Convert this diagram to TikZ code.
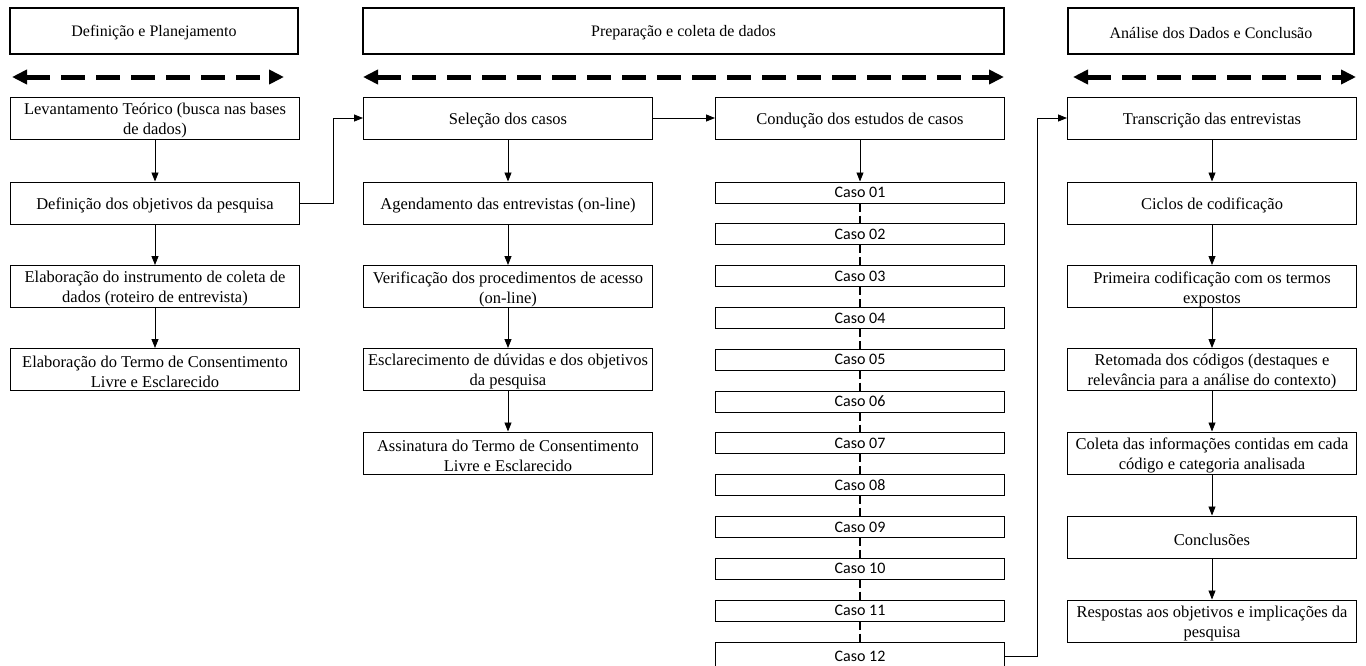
\documentclass[tikz,border=0pt]{standalone}
\usepackage{fontspec}
\setmainfont{Liberation Serif}
\newfontfamily\casefont{Carlito}
\usetikzlibrary{arrows.meta}
\newcommand\mybox[3]{%
  \node[box] (#1) at #2 {};
  \node[txt] (#1t) at ([yshift=-2.5pt]#1.center) {#3};}
\begin{document}
\begin{tikzpicture}[x=1pt,y=-1pt,
  hdr/.style={draw, line width=2.5pt, minimum height=46pt, inner sep=0pt},
  hdrtxt/.style={inner sep=0pt, font=\fontsize{16}{20}\selectfont},
  box/.style={draw, line width=1pt, minimum height=42pt, minimum width=289pt, inner sep=0pt, fill=white},
  txt/.style={inner sep=0pt, align=center, font=\fontsize{16.5}{20}\selectfont},
  casebox/.style={draw, line width=1pt, minimum height=21pt, minimum width=289pt, inner sep=0pt, fill=white, font=\casefont\fontsize{16}{19}\selectfont},
  conn/.style={line width=0.8pt, -{Triangle[length=9pt,width=7pt]}},
  bigarrow/.style={line width=5pt, dash pattern=on 24pt off 11pt, {Triangle[length=15pt,width=14pt]}-{Triangle[length=15pt,width=14pt]}},
  casedash/.style={line width=2.5pt, dash pattern=on 8pt off 4pt}
]
\useasboundingbox (0,0) rectangle (1366,665);
\fill[white] (0,0) rectangle (1366,665);

% headers
\node[hdr, minimum width=288pt] (h1) at (154,31) {};
\node[hdr, minimum width=641pt] (h2) at (683.5,31) {};
\node[hdr, minimum width=286pt] (h3) at (1211,31) {};
\node[hdrtxt] (h1t) at ([yshift=-2pt]h1.center) {Definição e Planejamento};
\node[hdrtxt] (h2t) at ([yshift=-2pt]h2.center) {Preparação e coleta de dados};
\node[hdrtxt] (h3t) at ([yshift=-2pt]h3.center) {Análise dos Dados e Conclusão};

% dashed double arrows
\coordinate (a1l) at (12,77);   \coordinate (a1r) at (284,77);
\coordinate (a2l) at (363,77);  \coordinate (a2r) at (1004,77);
\coordinate (a3l) at (1073,77); \coordinate (a3r) at (1356,77);
\draw[bigarrow] (a1l) -- (a1r);
\draw[bigarrow] (a2l) -- (a2r);
\draw[bigarrow] (a3l) -- (a3r);

% column 1
\mybox{b1}{(155,118)}{Levantamento Teórico (busca nas bases\\de dados)}
\mybox{b2}{(155,203)}{Definição dos objetivos da pesquisa}
\mybox{b3}{(155,286.5)}{Elaboração do instrumento de coleta de\\dados (roteiro de entrevista)}
\mybox{b4}{(155,369.5)}{Elaboração do Termo de Consentimento\\Livre e Esclarecido}

% column 2
\mybox{c1}{(508,118)}{Seleção dos casos}
\mybox{c2}{(508,203)}{Agendamento das entrevistas (on-line)}
\mybox{c3}{(508,286.5)}{Verificação dos procedimentos de acesso\\(on-line)}
\mybox{c4}{(508,369.5)}{Esclarecimento de dúvidas e dos objetivos\\da pesquisa}
\mybox{c5}{(508,453)}{Assinatura do Termo de Consentimento\\Livre e Esclarecido}

% column 3
\mybox{d1}{(860,118)}{Condução dos estudos de casos}
\foreach \i/\lab in {1/01,2/02,3/03,4/04,5/05,6/06,7/07,8/08,9/09,10/10,11/11}{
  \node[casebox] (k\i) at (860,{192.5+41.8*(\i-1)}) {Caso \lab};
}
\node[casebox, minimum height=28pt] (k12) at (860,656) {Caso 12};

% column 4
\mybox{e1}{(1212,118)}{Transcrição das entrevistas}
\mybox{e2}{(1212,203)}{Ciclos de codificação}
\mybox{e3}{(1212,286.5)}{Primeira codificação com os termos\\expostos}
\mybox{e4}{(1212,369.5)}{Retomada dos códigos (destaques e\\relevância para a análise do contexto)}
\mybox{e5}{(1212,453)}{Coleta das informações contidas em cada\\código e categoria analisada}
\mybox{e6}{(1212,537)}{Conclusões}
\mybox{e7}{(1212,621)}{Respostas aos objetivos e implicações da\\pesquisa}

% connectors
\draw[conn] (b1.south) -- (b2.north);
\draw[conn] (b2.south) -- (b3.north);
\draw[conn] (b3.south) -- (b4.north);
\draw[conn] (b2.east) -- ++(33,0) |- (c1.west);
\draw[conn] (c1.south) -- (c2.north);
\draw[conn] (c2.south) -- (c3.north);
\draw[conn] (c3.south) -- (c4.north);
\draw[conn] (c4.south) -- (c5.north);
\draw[conn] (c1.east) -- (d1.west);
\draw[conn] (d1.south) -- (k1.north);
\foreach \i/\j in {1/2,2/3,3/4,4/5,5/6,6/7,7/8,8/9,9/10,10/11,11/12}{
  \draw[casedash] (k\i.south) -- (k\j.north);
}
\draw[conn] (k12.east) -- ++(32,0) |- (e1.west);
\draw[conn] (e1.south) -- (e2.north);
\draw[conn] (e2.south) -- (e3.north);
\draw[conn] (e3.south) -- (e4.north);
\draw[conn] (e4.south) -- (e5.north);
\draw[conn] (e5.south) -- (e6.north);
\draw[conn] (e6.south) -- (e7.north);
\end{tikzpicture}
\end{document}
